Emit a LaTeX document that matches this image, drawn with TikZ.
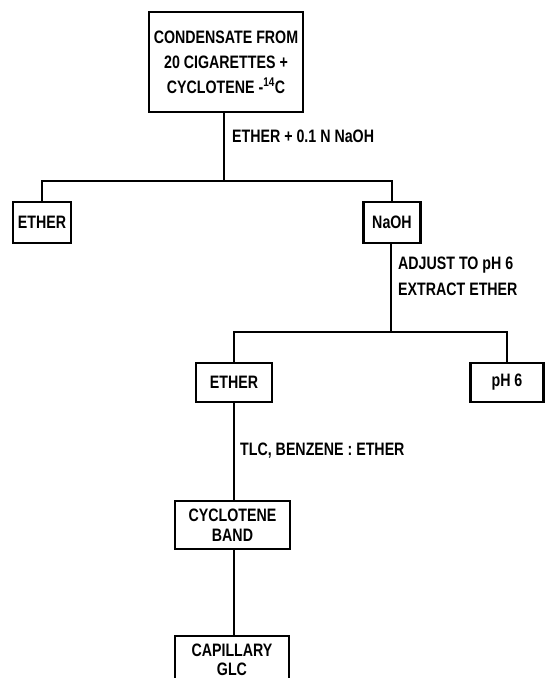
\documentclass[tikz,border=0pt]{standalone}
\usepackage{fontspec}
\setmainfont{Liberation Sans}[FakeStretch=0.79]
\begin{document}
\begin{tikzpicture}[x=1pt,y=-1pt,
  box/.style={draw=black,line width=2.4pt,inner sep=0pt,align=center,
    font=\fontsize{18}{25}\selectfont\bfseries},
  lbl/.style={inner sep=0pt,align=left,anchor=west,
    font=\fontsize{18}{26}\selectfont\bfseries},
  conn/.style={draw=black,line width=2.1pt}]
\clip (0,0) rectangle (545,678);
\fill[white] (0,0) rectangle (545,678);
% boxes
\node[box,minimum width=154pt,minimum height=100pt] (top) at (226,62)
  {CONDENSATE FROM\\20 CIGARETTES +\\CYCLOTENE -\textsuperscript{14}C};
\node[box,minimum width=58pt,minimum height=41pt] (e1) at (42,222.5) {ETHER};
\node[box,minimum width=57pt,minimum height=41pt] (naoh) at (392,222.5) {NaOH};
\node[box,minimum width=76pt,minimum height=39pt] (e2) at (234,382.5) {ETHER};
\node[box,minimum width=73pt,minimum height=39pt] (ph) at (507,382.5) {pH 6};
\node[box,minimum width=115pt,minimum height=48pt,
  font=\fontsize{18}{20}\selectfont\bfseries] (band) at (232.5,525)
  {CYCLOTENE\\BAND};
\node[box,minimum width=114pt,minimum height=70pt,anchor=north] (glc) at (232,635)
  {};
\node[font=\fontsize{18}{18.5}\selectfont\bfseries,align=center,inner sep=0pt]
  (glct) at (232,660) {CAPILLARY\\GLC};
% junctions
\coordinate (j1) at (224,181);
\coordinate (j2) at (391,332);
% connectors
\draw[conn] (j1 |- top.south) -- (j1);
\draw[conn] (e1.north) |- (j1) -| (naoh.north);
\draw[conn] (j2 |- naoh.south) -- (j2);
\draw[conn] (e2.north) |- (j2) -| (ph.north);
\draw[conn] (e2.south) -- (e2.south |- band.north);
\draw[conn] (band.south -| e2.south) -- (glc.north -| e2.south);
% labels
\node[lbl] (l1) at (232,136) {ETHER + 0.1 N NaOH};
\node[lbl,anchor=north west] (l2) at (398,257) {ADJUST TO pH 6\\EXTRACT ETHER};
\node[lbl] (l3) at (240,451) {TLC, BENZENE : ETHER};
\end{tikzpicture}
\end{document}
